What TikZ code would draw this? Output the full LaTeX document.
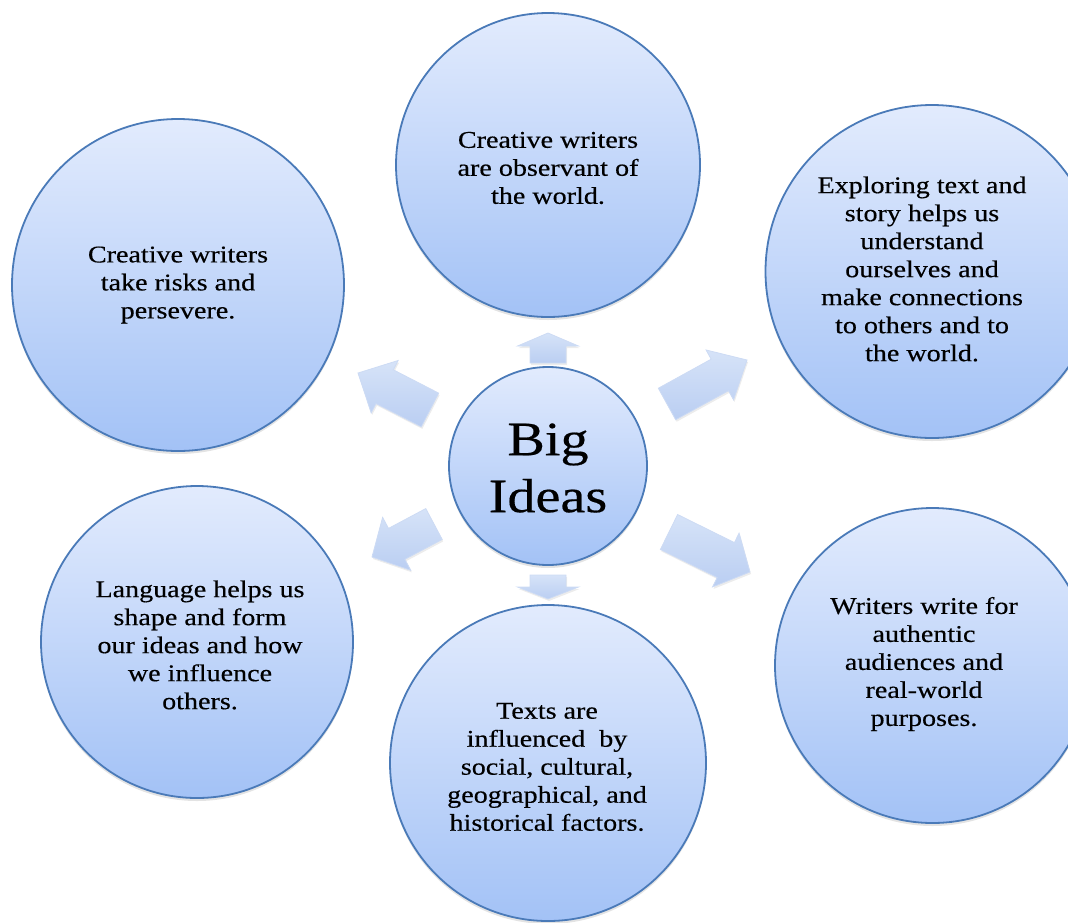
\documentclass[tikz,border=0pt]{standalone}
\usepackage{fontspec}
\setmainfont[FakeStretch=1.17,FakeBold=0.4]{Liberation Serif}
\usetikzlibrary{calc,shadows}
\definecolor{circtop}{RGB}{226,235,253}
\definecolor{circbot}{RGB}{163,194,246}
\definecolor{circline}{RGB}{74,122,184}
\definecolor{arrtop}{RGB}{214,227,248}
\definecolor{arrbot}{RGB}{186,206,242}
\definecolor{arrline}{RGB}{205,219,244}
\newcommand{\drawblockarrow}[5]{%
  \coordinate (#1-neck) at ($(#2)!#5!(#1)$);
  \path[blockarrow]
    ($(#1)!#3!90:(#2)$) --
    ($(#1-neck)!#3!90:(#2)$) --
    ($(#1-neck)!#4!90:(#2)$) --
    (#2) --
    ($(#1-neck)!#4!-90:(#2)$) --
    ($(#1-neck)!#3!-90:(#2)$) --
    ($(#1)!#3!-90:(#2)$) -- cycle;
}
\begin{document}
\begin{tikzpicture}[x=1pt,y=-1pt,
  bubble/.style={circle, draw=circline, line width=1.8pt, top color=circtop,
    bottom color=circbot, inner sep=0pt,
    drop shadow={opacity=0.22, shadow xshift=0pt, shadow yshift=-3pt}},
  bubbletext/.style={align=center, font=\fontsize{24}{28}\selectfont, inner sep=0pt},
  blockarrow/.style={draw=arrline, line width=0.8pt, top color=arrtop,
    bottom color=arrbot,
    drop shadow={opacity=0.15, shadow xshift=1pt, shadow yshift=-2pt}}]
\useasboundingbox (0,0) rectangle (1068,922);
\clip (0,0) rectangle (1068,922);

% circles
\node[bubble, minimum size=198pt] (center) at (548,466) {};
\node[bubble, minimum size=304pt] (top) at (548,165) {};
\node[bubble, minimum size=332pt] (topleft) at (178,285) {};
\node[bubble, minimum size=333pt] (topright) at (932,271.5) {};
\node[bubble, minimum size=312pt] (botleft) at (197,642) {};
\node[bubble, minimum size=316pt] (bottom) at (548,763) {};
\node[bubble, minimum size=315pt] (botright) at (932.5,665.5) {};

% block arrows
\coordinate (aT-tail) at (548,363); \coordinate (aT-tip) at (548,333);
\coordinate (aB-tail) at (548,575); \coordinate (aB-tip) at (548,599);
\coordinate (aTL-tail) at (430,410); \coordinate (aTL-tip) at (358,373);
\coordinate (aTR-tail) at (667,404); \coordinate (aTR-tip) at (747,360);
\coordinate (aBL-tail) at (434,524); \coordinate (aBL-tip) at (372,557);
\coordinate (aBR-tail) at (669,532); \coordinate (aBR-tip) at (750,572);
\drawblockarrow{aT-tail}{aT-tip}{18pt}{30.5pt}{13pt}
\drawblockarrow{aB-tail}{aB-tip}{18pt}{30.5pt}{12pt}
\drawblockarrow{aTL-tail}{aTL-tip}{19pt}{29.5pt}{30pt}
\drawblockarrow{aTR-tail}{aTR-tip}{18pt}{28.5pt}{31pt}
\drawblockarrow{aBL-tail}{aBL-tip}{17.5pt}{30pt}{28pt}
\drawblockarrow{aBR-tail}{aBR-tip}{19.5pt}{30pt}{27pt}

% texts
\node[align=center, inner sep=0pt, font=\fontsize{48}{57}\selectfont] (centertext) at (548,468) {Big\\Ideas};
\node[bubbletext] (toptext) at (548,168) {Creative writers\\are observant of\\the world.};
\node[bubbletext] (toplefttext) at (178,285) {Creative writers\\take risks and\\persevere.};
\node[bubbletext] (toprighttext) at (922,269) {Exploring text and\\story helps us\\understand\\ourselves and\\make connections\\to others and to\\the world.};
\node[bubbletext] (botlefttext) at (200,645) {Language helps us\\shape and form\\our ideas and how\\we influence\\others.};
\node[bubbletext] (bottomtext) at (547,767) {Texts are\\influenced\ \ by\\social, cultural,\\geographical, and\\historical factors.};
\node[bubbletext] (botrighttext) at (924,664) {Writers write for\\authentic\\audiences and\\real-world\\purposes.};
\end{tikzpicture}
\end{document}
